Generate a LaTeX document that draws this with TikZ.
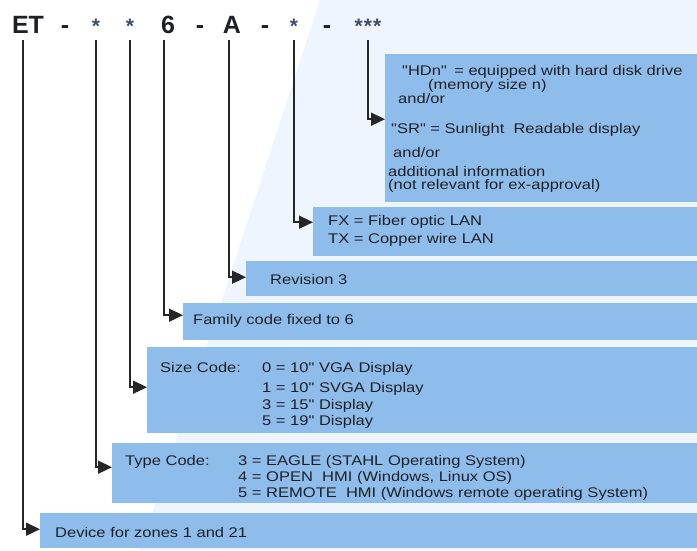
\documentclass[tikz,border=0pt]{standalone}
\usepackage{fontspec}
\usepackage{graphicx}
\setmainfont{Liberation Sans}
\usetikzlibrary{arrows.meta}
\definecolor{boxblue}{RGB}{142,189,236}
\definecolor{txtcol}{RGB}{30,32,38}
\definecolor{starcol}{RGB}{60,80,110}
\definecolor{bgblue}{RGB}{238,245,252}
\newcommand{\stretchtxt}[1]{\scalebox{1.18}[1]{#1}}
\begin{document}
\begin{tikzpicture}[x=1pt,y=-1pt,
  box/.style={fill=boxblue, draw=none, inner sep=0pt, anchor=north west},
  ttl/.style={font=\fontsize{25}{28}\selectfont\bfseries, text=txtcol, inner sep=0pt, anchor=base},
  star/.style={font=\fontsize{21}{24}\selectfont\bfseries, text=starcol, inner sep=0pt, anchor=base},
  txt/.style={font=\fontsize{14}{16}\selectfont, text=txtcol, inner sep=0pt, anchor=base west},
  conn/.style={draw=black!85, line width=1.6pt, -{Triangle[length=14pt,width=13pt]}}]
\useasboundingbox (0,0) rectangle (697,550);
\fill[bgblue] (320,0) -- (697,0) -- (697,550) -- (140,550) -- cycle;

% title
\node[ttl] (ET) at (28,33) {ET};
\node[ttl] (d1) at (65,33) {-};
\node[star] (s1) at (96,33) {*};
\node[star] (s2) at (130,33) {*};
\node[ttl] (six) at (168,33) {6};
\node[ttl] (d2) at (200,33) {-};
\node[ttl] (A) at (232,33) {A};
\node[ttl] (d3) at (265,33) {-};
\node[star] (s3) at (294,33) {*};
\node[ttl] (d4) at (327,33) {-};
\node[star] (s4) at (368,33) {*\kern1pt*\kern1pt*};

% boxes
\node[box, minimum width=312, minimum height=148] (hd) at (385,54) {};
\node[box, minimum width=384, minimum height=49] (fx) at (313,207) {};
\node[box, minimum width=451, minimum height=35] (rev) at (246,261) {};
\node[box, minimum width=514, minimum height=37] (fam) at (183,303) {};
\node[box, minimum width=550, minimum height=86] (size) at (147,347) {};
\node[box, minimum width=585, minimum height=60] (type) at (112,443) {};
\node[box, minimum width=657, minimum height=35] (dev) at (40,513) {};

% texts
\node[txt] (hd1) at (402,75) {\stretchtxt{\textquotedbl HDn\textquotedbl\ \,= equipped with hard disk drive}};
\node[txt] (hd2) at (428,89) {\stretchtxt{(memory size n)}};
\node[txt] (hd3) at (398,103) {\stretchtxt{and/or}};
\node[txt] (hd4) at (391,133) {\stretchtxt{\textquotedbl SR\textquotedbl\ = Sunlight \ Readable display}};
\node[txt] (hd5) at (393,157) {\stretchtxt{and/or}};
\node[txt] (hd6) at (388,176) {\stretchtxt{additional information}};
\node[txt] (hd7) at (388,189) {\stretchtxt{(not relevant for ex-approval)}};

\node[txt] (fx1) at (328,225) {\stretchtxt{FX = Fiber optic LAN}};
\node[txt] (fx2) at (328,243) {\stretchtxt{TX = Copper wire LAN}};

\node[txt] (rev1) at (270,284) {\stretchtxt{Revision 3}};
\node[txt] (fam1) at (193,324) {\stretchtxt{Family code fixed to 6}};

\node[txt] (sz0) at (160,372) {\stretchtxt{Size Code:}};
\node[txt] (sz1) at (262,372) {\stretchtxt{0 = 10\textquotedbl\ VGA Display}};
\node[txt] (sz2) at (262,392) {\stretchtxt{1 = 10\textquotedbl\ SVGA Display}};
\node[txt] (sz3) at (262,409) {\stretchtxt{3 = 15\textquotedbl\ Display}};
\node[txt] (sz4) at (262,425) {\stretchtxt{5 = 19\textquotedbl\ Display}};

\node[txt] (ty0) at (125,465) {\stretchtxt{Type Code:}};
\node[txt] (ty1) at (238,465) {\stretchtxt{3 = EAGLE (STAHL Operating System)}};
\node[txt] (ty2) at (238,481) {\stretchtxt{4 = OPEN \ HMI (Windows, Linux OS)}};
\node[txt] (ty3) at (238,497) {\stretchtxt{5 = REMOTE \ HMI (Windows remote operating System)}};

\node[txt] (dev1) at (55,537) {\stretchtxt{Device for zones 1 and 21}};

% connectors
\draw[conn] ([xshift=-5pt,yshift=-7pt]ET.base) |- ([yshift=1.5pt]dev.west);
\draw[conn] ([yshift=-7pt]s1.base) |- ([yshift=6pt]type.west);
\draw[conn] ([yshift=-7pt]s2.base) |- ([yshift=3pt]size.west);
\draw[conn] ([xshift=-4pt,yshift=-7pt]six.base) |- ([yshift=6.5pt]fam.west);
\draw[conn] ([xshift=-3pt,yshift=-7pt]A.base) |- ([yshift=1.5pt]rev.west);
\draw[conn] ([yshift=-7pt]s3.base) |- ([yshift=9.5pt]fx.west);
\draw[conn] ([yshift=-7pt]s4.base) |- ([yshift=9pt]hd.west);
\end{tikzpicture}
\end{document}
